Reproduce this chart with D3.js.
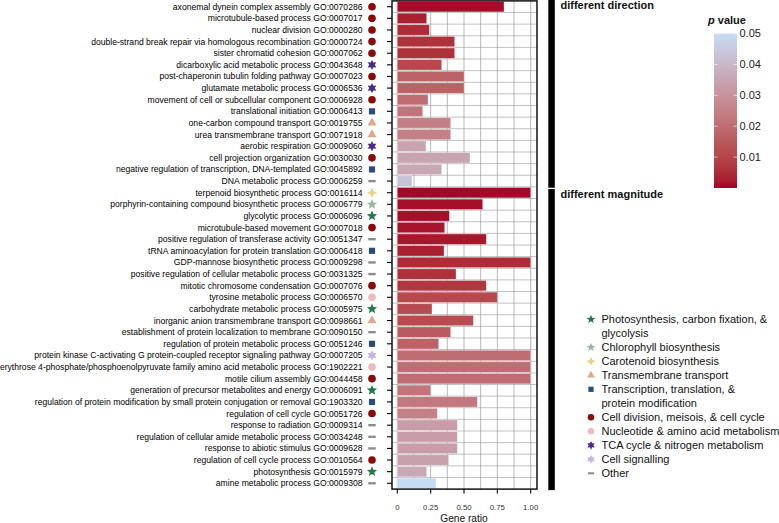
<!DOCTYPE html>
<html><head><meta charset="utf-8">
<script src="https://cdn.jsdelivr.net/npm/d3@7"></script>
<style>body{margin:0;background:#fff;} text{font-family:"Liberation Sans",Arial,Helvetica,sans-serif;}</style>
</head><body><svg id="c" width="779" height="523"></svg>
<script>
const terms = [
 "axonemal dynein complex assembly","microtubule-based process","nuclear division",
 "double-strand break repair via homologous recombination","sister chromatid cohesion",
 "dicarboxylic acid metabolic process","post-chaperonin tubulin folding pathway",
 "glutamate metabolic process","movement of cell or subcellular component",
 "translational initiation","one-carbon compound transport","urea transmembrane transport",
 "aerobic respiration","cell projection organization",
 "negative regulation of transcription, DNA-templated","DNA metabolic process",
 "terpenoid biosynthetic process","porphyrin-containing compound biosynthetic process",
 "glycolytic process","microtubule-based movement","positive regulation of transferase activity",
 "tRNA aminoacylation for protein translation","GDP-mannose biosynthetic process",
 "positive regulation of cellular metabolic process","mitotic chromosome condensation",
 "tyrosine metabolic process","carbohydrate metabolic process",
 "inorganic anion transmembrane transport","establishment of protein localization to membrane",
 "regulation of protein metabolic process",
 "protein kinase C-activating G protein-coupled receptor signaling pathway",
 "erythrose 4-phosphate/phosphoenolpyruvate family amino acid metabolic process",
 "motile cilium assembly","generation of precursor metabolites and energy",
 "regulation of protein modification by small protein conjugation or removal",
 "regulation of cell cycle","response to radiation","regulation of cellular amide metabolic process",
 "response to abiotic stimulus","regulation of cell cycle process","photosynthesis",
 "amine metabolic process"];
const goIds = [
 "GO:0070286","GO:0007017","GO:0000280","GO:0000724","GO:0007062","GO:0043648","GO:0007023",
 "GO:0006536","GO:0006928","GO:0006413","GO:0019755","GO:0071918","GO:0009060","GO:0030030",
 "GO:0045892","GO:0006259","GO:0016114","GO:0006779","GO:0006096","GO:0007018","GO:0051347",
 "GO:0006418","GO:0009298","GO:0031325","GO:0007076","GO:0006570","GO:0005975","GO:0098661",
 "GO:0090150","GO:0051246","GO:0007205","GO:1902221","GO:0044458","GO:0006091","GO:1903320",
 "GO:0051726","GO:0009314","GO:0034248","GO:0009628","GO:0010564","GO:0015979","GO:0009308"];
const termClass = [5,5,5,5,5,7,5,7,5,4,3,3,7,5,4,9,2,1,0,5,9,4,9,9,5,6,0,3,9,4,8,6,5,0,4,5,9,9,9,5,0,9];
const geneRatio = [0.80,0.22,0.24,0.43,0.43,0.333,0.50,0.50,0.23,0.19,0.40,0.40,0.215,0.545,0.333,0.11,
 1.00,0.64,0.39,0.355,0.667,0.35,1.00,0.44,0.667,0.75,0.26,0.57,0.40,0.31,1.00,1.00,1.00,0.25,0.60,0.30,
 0.45,0.45,0.45,0.385,0.22,0.29];
const pValues = [0.0008,0.003,0.005,0.006,0.006,0.011,0.017,0.017,0.020,0.022,0.025,0.025,0.035,0.035,0.036,0.043,
 0.0005,0.001,0.001,0.0015,0.002,0.003,0.005,0.006,0.007,0.011,0.012,0.012,0.015,0.017,0.020,0.020,0.020,0.022,0.023,0.025,
 0.033,0.033,0.033,0.034,0.036,0.050];
const sectionNames = ["different direction","different magnitude"];
const sectionSizes = [16,26];
const xTicks = [0,0.25,0.5,0.75,1];
const xTickLabels = ["0","0.25","0.50","0.75","1.00"];
const pTicks = [0.01,0.02,0.03,0.04,0.05];
const classLabels = [["Photosynthesis, carbon fixation, &","glycolysis"],["Chlorophyll biosynthesis"],
 ["Carotenoid biosynthesis"],["Transmembrane transport"],["Transcription, translation, &","protein modification"],
 ["Cell division, meisois, & cell cycle"],["Nucleotide & amino acid metabolism"],
 ["TCA cycle & nitrogen metabolism"],["Cell signalling"],["Other"]];
const classColors = ["#237a48","#9bb79b","#e8d08a","#e2a888","#2a4b7f","#8b0a0a","#f0b9bb","#4a2b8c","#c3b3ee","#8c8c8c"];
const classShapes = ["star5","star5","star4","triangle","square","circle","circle","star6","star6","dash"];

const svg = d3.select("#c");
const n = terms.length;
const panel = {x0:392, x1:537, y0:0.9, y1:489.1};
const y = d3.scaleBand().domain(d3.range(n)).range([panel.y0, panel.y1]).paddingInner(0.11).paddingOuter(0.055);
const x = d3.scaleLinear().domain([0,1]).range([397.3,530.7]);
const color = d3.scaleLinear().domain([0,0.05]).range(["#a50026","#c6dcf6"]).interpolate(d3.interpolateLab);
const rowC = i => y(i) + y.bandwidth()/2;

function starPath(points, rO, rI){
  const p=[];
  for(let i=0;i<2*points;i++){
    const a=-Math.PI/2+i*Math.PI/points, r=i%2?rI:rO;
    p.push([r*Math.cos(a), r*Math.sin(a)]);
  }
  return "M"+p.map(d=>d[0].toFixed(2)+","+d[1].toFixed(2)).join("L")+"Z";
}
function shapePath(s, k){
  switch(s){
    case "star5": return starPath(5,5.4*k,2.4*k);
    case "star4": return starPath(4,5.3*k,2.3*k);
    case "star6": return starPath(6,5.1*k,2.7*k);
    case "triangle": return d3.symbol(d3.symbolTriangle, 36*k*k)();
    case "square": return d3.symbol(d3.symbolSquare, 38*k*k)();
    case "circle": return d3.symbol(d3.symbolCircle, 46*k*k)();
    case "dash": return `M${-3.7*k},${-1.2*k}H${3.7*k}V${1.2*k}H${-3.7*k}Z`;
  }
}

// grid
const g = svg.append("g");
const minor = d3.range(0,1.0001,0.125);
g.selectAll("line.v").data(minor).join("line")
  .attr("x1",d=>x(d)).attr("x2",d=>x(d)).attr("y1",panel.y0).attr("y2",panel.y1)
  .attr("stroke","#888").attr("stroke-width",0.6);
const hLines = d3.range(1,n).map(d=>y(d-1)+y.bandwidth()+y.step()*0.11/2);
g.selectAll("line.h").data(hLines).join("line")
  .attr("x1",panel.x0).attr("x2",panel.x1).attr("y1",d=>d).attr("y2",d=>d)
  .attr("stroke","#999").attr("stroke-width",0.6);

// bars
svg.append("g").selectAll("rect").data(d3.range(n)).join("rect")
  .attr("x",x(0)).attr("y",i=>y(i)).attr("width",i=>x(geneRatio[i])-x(0)).attr("height",y.bandwidth())
  .attr("fill",i=>color(pValues[i])).attr("stroke","#ffffff").attr("stroke-opacity",0.45).attr("stroke-width",0.6);

// panel border
svg.append("rect").attr("x",panel.x0).attr("y",panel.y0).attr("width",panel.x1-panel.x0).attr("height",panel.y1-panel.y0)
  .attr("fill","none").attr("stroke","#000").attr("stroke-width",1.4);

// y ticks
svg.append("g").selectAll("line").data(d3.range(n)).join("line")
  .attr("x1",387).attr("x2",panel.x0).attr("y1",rowC).attr("y2",rowC).attr("stroke","#000").attr("stroke-width",1.1);
// labels
svg.append("g").selectAll("text").data(d3.range(n)).join("text")
  .attr("x",362.5).attr("y",i=>rowC(i)).attr("dy","0.35em").attr("text-anchor","end")
  .attr("font-size","8.6px").attr("fill","#000").text(i=>terms[i]+" "+goIds[i]);
// markers
svg.append("g").selectAll("path").data(d3.range(n)).join("path")
  .attr("transform",i=>`translate(372,${rowC(i)})`)
  .attr("d",i=>shapePath(classShapes[termClass[i]],1))
  .attr("fill",i=>classColors[termClass[i]]);

// x axis
const xa = svg.append("g");
xa.selectAll("line").data(xTicks).join("line").attr("x1",d=>x(d)).attr("x2",d=>x(d))
  .attr("y1",panel.y1).attr("y2",panel.y1+4.5).attr("stroke","#000").attr("stroke-width",1.1);
xa.selectAll("text").data(xTicks).join("text").attr("x",d=>x(d)).attr("y",509.5).attr("text-anchor","middle")
  .attr("font-size","7.8px").attr("fill","#333").text((d,i)=>xTickLabels[i]);
svg.append("text").attr("x",464).attr("y",521.5).attr("text-anchor","middle").attr("font-size","10.2px")
  .attr("fill","#111").text("Gene ratio");

// section brackets
let start = 0;
sectionNames.forEach((s,k)=>{
  const top = k===0 ? 0 : y(start)+1.5;
  const endRow = start+sectionSizes[k]-1;
  const bot = k===0 ? y(endRow)+y.bandwidth()+1.5 : panel.y1+1;
  svg.append("rect").attr("x",548.3).attr("y",top).attr("width",6.5).attr("height",bot-top).attr("fill","#000");
  svg.append("text").attr("x",560.5).attr("y",top+8.8).attr("font-size","11px").attr("font-weight","bold")
    .attr("fill","#111").text(s);
  start += sectionSizes[k];
});

// colorbar
const cb = {x:714, w:23, y0:33.5, y1:188};
const cy = d3.scaleLinear().domain([0,0.05]).range([cb.y1, cb.y0]);
const defs = svg.append("defs");
const grad = defs.append("linearGradient").attr("id","pg").attr("x1",0).attr("x2",0).attr("y1",1).attr("y2",0);
d3.range(0,1.0001,0.05).forEach(t=>grad.append("stop").attr("offset",t).attr("stop-color",color(t*0.05)));
svg.append("rect").attr("x",cb.x).attr("y",cb.y0).attr("width",cb.w).attr("height",cb.y1-cb.y0).attr("fill","url(#pg)");
const ct = svg.append("g");
pTicks.forEach(p=>{
  ct.append("line").attr("x1",cb.x).attr("x2",cb.x+3.5).attr("y1",cy(p)).attr("y2",cy(p)).attr("stroke","#fff").attr("stroke-width",0.8).attr("stroke-opacity",0.8);
  ct.append("line").attr("x1",cb.x+cb.w-3.5).attr("x2",cb.x+cb.w).attr("y1",cy(p)).attr("y2",cy(p)).attr("stroke","#fff").attr("stroke-width",0.8).attr("stroke-opacity",0.8);
  ct.append("text").attr("x",739.5).attr("y",cy(p)).attr("dy","0.36em").attr("font-size","11px").attr("fill","#222").text(p.toFixed(2));
});
const tt = svg.append("text").attr("x",708).attr("y",24).attr("font-size","11px").attr("font-weight","bold").attr("fill","#111");
tt.append("tspan").attr("font-style","italic").text("p");
tt.append("tspan").text(" value");

// class legend
let line = 0;
const lg = svg.append("g");
classLabels.forEach((lab,k)=>{
  const yy = 319.3 + line*14.0;
  lg.append("path").attr("transform",`translate(591,${yy})`).attr("d",shapePath(classShapes[k],0.85)).attr("fill",classColors[k]);
  lab.forEach((t,j)=>{
    lg.append("text").attr("x",601.5).attr("y",yy+j*14.0).attr("dy","0.36em").attr("font-size","11px").attr("fill","#111").text(t);
  });
  line += lab.length;
});
</script></body></html>
